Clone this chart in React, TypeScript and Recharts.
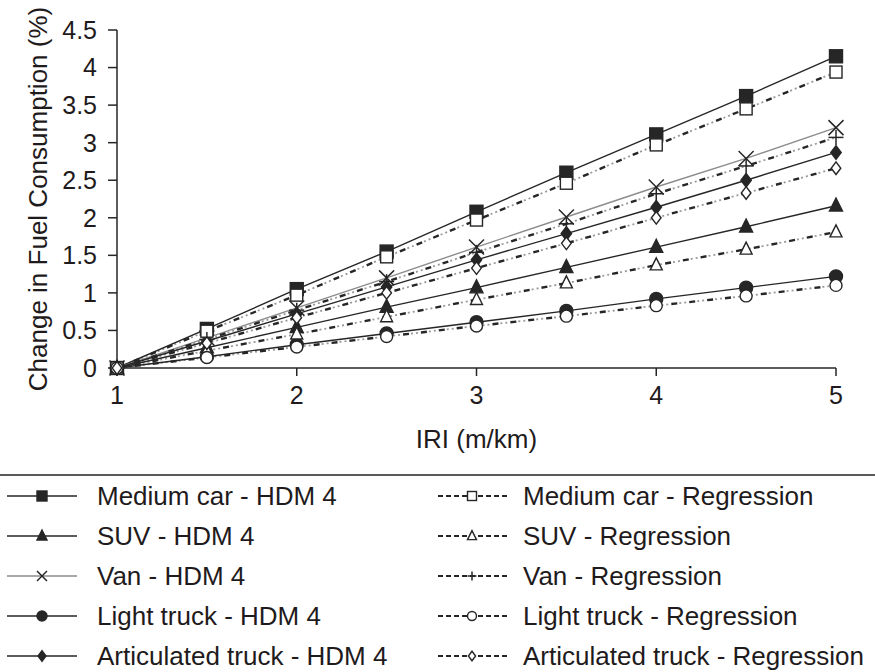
import { LineChart, Line, XAxis, YAxis } from 'recharts'

// IRI values (m/km) along the x axis
const iri = [1, 1.5, 2, 2.5, 3, 3.5, 4, 4.5, 5]
const xTicks = [1, 2, 3, 4, 5]
const yTicks = [0, 0.5, 1, 1.5, 2, 2.5, 3, 3.5, 4, 4.5]

// change in fuel consumption (%)
const mediumCarHdm = [0, 0.52, 1.05, 1.55, 2.08, 2.6, 3.11, 3.62, 4.15]
const mediumCarReg = [0, 0.49, 0.97, 1.48, 1.97, 2.46, 2.97, 3.45, 3.94]
const suvHdm = [0, 0.27, 0.54, 0.81, 1.07, 1.34, 1.61, 1.88, 2.16]
const suvReg = [0, 0.23, 0.45, 0.68, 0.91, 1.13, 1.37, 1.58, 1.81]
const vanHdm = [0, 0.4, 0.8, 1.2, 1.61, 2.01, 2.41, 2.79, 3.2]
const vanReg = [0, 0.38, 0.77, 1.15, 1.54, 1.92, 2.32, 2.69, 3.07]
const lightTruckHdm = [0, 0.15, 0.31, 0.46, 0.61, 0.76, 0.92, 1.07, 1.22]
const lightTruckReg = [0, 0.14, 0.28, 0.42, 0.56, 0.69, 0.83, 0.96, 1.1]
const artTruckHdm = [0, 0.36, 0.72, 1.08, 1.44, 1.79, 2.14, 2.5, 2.87]
const artTruckReg = [0, 0.33, 0.67, 1.0, 1.33, 1.66, 2.0, 2.33, 2.66]

const TEXT = '#1f1b1c'
const INK = '#262626'
const GREY = '#8c8c8c'
const FONT = '"Liberation Sans", Arial, Helvetica, sans-serif'

type Shape = 'square' | 'triangle' | 'cross' | 'plus' | 'circle' | 'diamond'

const series = [
  { key: 'mcH', name: 'Medium car - HDM 4', values: mediumCarHdm, shape: 'square', reg: false },
  { key: 'suvH', name: 'SUV - HDM 4', values: suvHdm, shape: 'triangle', reg: false },
  { key: 'vanH', name: 'Van - HDM 4', values: vanHdm, shape: 'cross', reg: false },
  { key: 'ltH', name: 'Light truck - HDM 4', values: lightTruckHdm, shape: 'circle', reg: false },
  { key: 'atH', name: 'Articulated truck - HDM 4', values: artTruckHdm, shape: 'diamond', reg: false },
  { key: 'mcR', name: 'Medium car - Regression', values: mediumCarReg, shape: 'square', reg: true },
  { key: 'suvR', name: 'SUV - Regression', values: suvReg, shape: 'triangle', reg: true },
  { key: 'vanR', name: 'Van - Regression', values: vanReg, shape: 'plus', reg: true },
  { key: 'ltR', name: 'Light truck - Regression', values: lightTruckReg, shape: 'circle', reg: true },
  { key: 'atR', name: 'Articulated truck - Regression', values: artTruckReg, shape: 'diamond', reg: true },
] as { key: string; name: string; values: number[]; shape: Shape; reg: boolean }[]

const data = iri.map((x, i) => {
  const row: Record<string, number> = { iri: x }
  series.forEach((s) => (row[s.key] = s.values[i]))
  return row
})

function Marker({ shape, cx, cy, s, filled }: { shape: Shape; cx: number; cy: number; s: number; filled: boolean }) {
  const fill = filled ? INK : '#fff'
  const h = s / 2
  switch (shape) {
    case 'square':
      return <rect x={cx - h} y={cy - h} width={s} height={s} fill={fill} stroke={INK} strokeWidth={1.4} />
    case 'triangle':
      return (
        <polygon
          points={`${cx},${cy - s * 0.6} ${cx - h},${cy + s * 0.4} ${cx + h},${cy + s * 0.4}`}
          fill={fill}
          stroke={INK}
          strokeWidth={1.4}
        />
      )
    case 'circle':
      return <circle cx={cx} cy={cy} r={h} fill={fill} stroke={INK} strokeWidth={1.4} />
    case 'diamond':
      return (
        <polygon
          points={`${cx},${cy - h * 1.05} ${cx + h * 0.8},${cy} ${cx},${cy + h * 1.05} ${cx - h * 0.8},${cy}`}
          fill={fill}
          stroke={INK}
          strokeWidth={1.4}
        />
      )
    case 'cross':
      return (
        <g stroke={INK} strokeWidth={1.5}>
          <line x1={cx - h} y1={cy - h} x2={cx + h} y2={cy + h} />
          <line x1={cx - h} y1={cy + h} x2={cx + h} y2={cy - h} />
        </g>
      )
    case 'plus':
      return (
        <g stroke={INK} strokeWidth={1.5}>
          <line x1={cx - h} y1={cy} x2={cx + h} y2={cy} />
          <line x1={cx} y1={cy - h} x2={cx} y2={cy + h} />
        </g>
      )
  }
  return null
}

const makeDot = (shape: Shape, filled: boolean, s: number) => (props: any) => {
  const { cx, cy, index } = props
  if (cx == null || cy == null) return <g key={index} />
  return (
    <g key={index}>
      <Marker shape={shape} cx={cx} cy={cy} s={s} filled={filled} />
    </g>
  )
}

const sizeOf = (shape: Shape, reg: boolean) => {
  if (shape === 'cross') return 15
  if (shape === 'plus') return 15
  return reg ? 12 : 13
}

function YTitle(props: any) {
  const vb = props.viewBox || {}
  const x = (vb.x ?? 0) + 38
  const y = (vb.y ?? 30) + (vb.height ?? 338) / 2
  return (
    <text
      x={x}
      y={y}
      transform={`rotate(-90, ${x}, ${y})`}
      textAnchor="middle"
      dominantBaseline="central"
      fontSize={26}
      fill={TEXT}
      fontFamily={FONT}
    >
      Change in Fuel Consumption (%)
    </text>
  )
}

function LegendSymbol({ shape, reg, width, mid }: { shape: Shape; reg: boolean; width: number; mid: number }) {
  return (
    <svg width={width} height={40} style={{ position: 'absolute', left: 0, top: 0 }}>
      {reg ? (
        <line x1={0} y1={20} x2={width} y2={20} stroke={INK} strokeWidth={2} strokeDasharray="5 3" />
      ) : (
        <line x1={0} y1={20} x2={width} y2={20} stroke={shape === 'cross' ? GREY : INK} strokeWidth={1.5} />
      )}
      <Marker shape={shape} cx={mid} cy={20} s={reg ? 9 : 10} filled={!reg} />
    </svg>
  )
}

export default function App() {
  const hdm = series.filter((s) => !s.reg)
  const reg = series.filter((s) => s.reg)
  return (
    <div style={{ position: 'absolute', left: 0, top: 0, width: 875, height: 672, background: '#fff', fontFamily: FONT }}>
      <LineChart width={875} height={468} data={data} margin={{ top: 30, right: 39, bottom: 0, left: 0 }}>
        <XAxis
          dataKey="iri"
          type="number"
          domain={[1, 5]}
          ticks={xTicks}
          height={100}
          tick={{ fontSize: 25, fill: TEXT, fontFamily: FONT }}
          tickSize={8}
          tickMargin={10}
          axisLine={{ stroke: INK, strokeWidth: 1.5 }}
          tickLine={{ stroke: INK, strokeWidth: 1.5 }}
          label={{ value: 'IRI (m/km)', position: 'insideBottom', offset: 20, fontSize: 26, fill: TEXT, fontFamily: FONT }}
        />
        <YAxis
          type="number"
          domain={[0, 4.5]}
          ticks={yTicks}
          width={117}
          tick={{ fontSize: 25, fill: TEXT, fontFamily: FONT }}
          tickSize={9}
          tickMargin={11}
          axisLine={{ stroke: INK, strokeWidth: 1.5 }}
          tickLine={{ stroke: INK, strokeWidth: 1.5 }}
          label={<YTitle />}
        />
        {/* grey dotted part of the regression lines */}
        {reg.map((s) => (
          <Line
            key={s.key + '-grey'}
            dataKey={s.key}
            stroke="#9a9a9a"
            strokeWidth={1.8}
            strokeDasharray="0 8 2 3 2 3"
            dot={false}
            legendType="none"
            isAnimationActive={false}
          />
        ))}
        {hdm.map((s) => (
          <Line
            key={s.key}
            dataKey={s.key}
            name={s.name}
            stroke={s.shape === 'cross' ? GREY : INK}
            strokeWidth={1.4}
            dot={makeDot(s.shape, true, sizeOf(s.shape, false))}
            isAnimationActive={false}
          />
        ))}
        {reg.map((s) => (
          <Line
            key={s.key}
            dataKey={s.key}
            name={s.name}
            stroke={INK}
            strokeWidth={2.4}
            strokeDasharray="6 12"
            dot={makeDot(s.shape, false, sizeOf(s.shape, true))}
            isAnimationActive={false}
          />
        ))}
      </LineChart>
      <div style={{ position: 'absolute', left: 0, top: 474, width: 875, height: 2, background: '#5a5a5a' }} />
      {hdm.map((s, i) => (
        <div key={s.key} style={{ position: 'absolute', left: 7, top: 476 + i * 40, height: 40, width: 420 }}>
          <LegendSymbol shape={s.shape} reg={false} width={70} mid={35} />
          <span style={{ position: 'absolute', left: 90, top: 0, lineHeight: '40px', fontSize: 26, color: TEXT, whiteSpace: 'nowrap' }}>
            {s.name}
          </span>
        </div>
      ))}
      {reg.map((s, i) => (
        <div key={s.key} style={{ position: 'absolute', left: 438, top: 476 + i * 40, height: 40, width: 437 }}>
          <LegendSymbol shape={s.shape} reg={true} width={69} mid={34} />
          <span style={{ position: 'absolute', left: 85, top: 0, lineHeight: '40px', fontSize: 26, color: TEXT, whiteSpace: 'nowrap' }}>
            {s.name}
          </span>
        </div>
      ))}
    </div>
  )
}
